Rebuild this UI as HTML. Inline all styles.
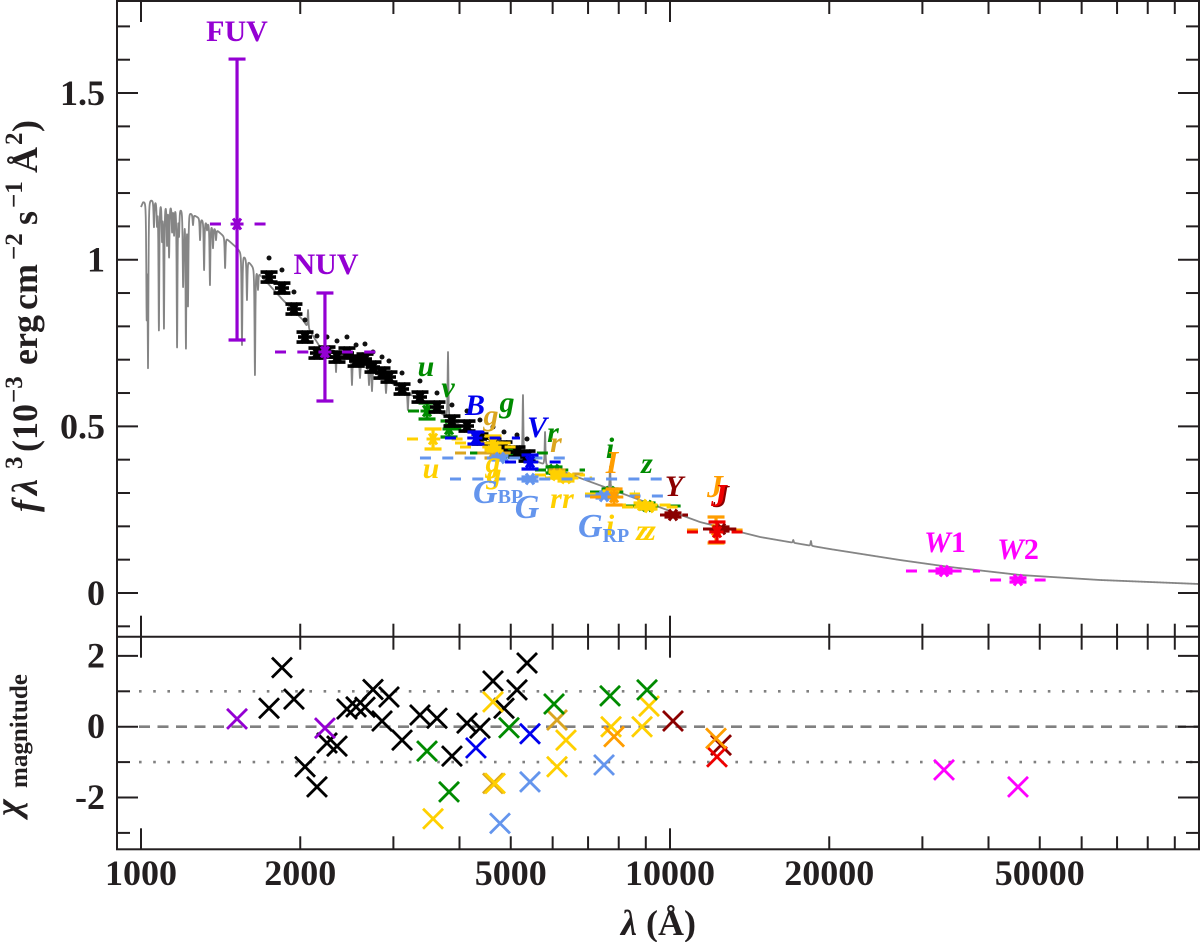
<!DOCTYPE html>
<html lang="en">
<head>
<meta charset="utf-8">
<title>Spectral energy distribution</title>
<style>
html,body{margin:0;padding:0;background:#fff;width:1200px;height:942px;overflow:hidden}
svg{display:block}
text{font-family:"Liberation Serif","DejaVu Serif",serif;font-weight:bold}
.i{font-style:italic}
</style>
</head>
<body>
<svg id="chart" xmlns="http://www.w3.org/2000/svg" width="1200" height="942" viewBox="0 0 1200 942">
  <defs>
    <clipPath id="clip-top"><rect x="117" y="1" width="1082" height="636"/></clipPath>
  </defs>
  <g id="spectrum-layer" clip-path="url(#clip-top)"></g>
  <g id="marks-layer"></g>
  <g id="residual-layer"></g>
  <g id="axes-layer"></g>

  <g font-size="30">
    <text x="237" y="41" text-anchor="middle" fill="#9400d3">FUV</text>
    <text x="326" y="274" text-anchor="middle" fill="#9400d3">NUV</text>
    <text class="i" x="426" y="376" text-anchor="middle" fill="#008b00">u</text>
    <text class="i" x="448" y="397" text-anchor="middle" fill="#008b00">v</text>
    <text class="i" x="507" y="412" text-anchor="middle" fill="#008b00">g</text>
    <text class="i" x="553" y="442" text-anchor="middle" fill="#008b00">r</text>
    <text class="i" x="610" y="458" text-anchor="middle" fill="#008b00">i</text>
    <text class="i" x="647" y="473" text-anchor="middle" fill="#008b00">z</text>
    <text class="i" x="491" y="425" text-anchor="middle" fill="#daa520">g</text>
    <text class="i" x="556" y="452" text-anchor="middle" fill="#daa520">r</text>
    <text class="i" x="475" y="415" text-anchor="middle" fill="#0000ee">B</text>
    <text class="i" x="537" y="437" text-anchor="middle" fill="#0000ee">V</text>
    <text class="i" x="431" y="478" text-anchor="middle" fill="#ffd000">u</text>
    <text class="i" x="493" y="472" text-anchor="middle" fill="#ffd000">g</text>
    <text class="i" x="494" y="483" text-anchor="middle" fill="#ffd000">g</text>
    <text class="i" x="556" y="508" text-anchor="middle" fill="#ffd000">r</text>
    <text class="i" x="568" y="508" text-anchor="middle" fill="#ffd000">r</text>
    <text class="i" x="610" y="535" text-anchor="middle" fill="#ffd000">i</text>
    <text class="i" x="642" y="540" text-anchor="middle" fill="#ffd000">z</text>
    <text class="i" x="650" y="540" text-anchor="middle" fill="#ffd000">z</text>
    <text class="i" x="527" y="518" text-anchor="middle" font-size="34" fill="#6495ed">G</text>
    <text x="473" y="503" font-size="34" fill="#6495ed"><tspan class="i">G</tspan><tspan font-size="20" dx="0">BP</tspan></text>
    <text x="578" y="537" font-size="34" fill="#6495ed"><tspan class="i">G</tspan><tspan font-size="20" dy="5">RP</tspan></text>
    <text class="i" x="612" y="473" text-anchor="middle" font-size="32" fill="#ff9d00">I</text>
    <text class="i" x="715" y="497" text-anchor="middle" font-size="32" fill="#ff9d00">J</text>
    <text class="i" x="721" y="507" text-anchor="middle" font-size="32" fill="#8b0000">J</text>
    <text class="i" x="719" y="506" text-anchor="middle" font-size="32" fill="#ee0000">J</text>
    <text class="i" x="674" y="496" text-anchor="middle" fill="#8b0000">Y</text>
    <text x="945" y="552" text-anchor="middle" fill="#ff00ff"><tspan class="i">W</tspan>1</text>
    <text x="1018" y="559" text-anchor="middle" fill="#ff00ff"><tspan class="i">W</tspan>2</text>
  </g>

  <g fill="#231f20">
    <g transform="translate(37,517) rotate(-90)" font-size="36">
      <text class="i" x="5" y="0">f</text>
      <text class="i" x="22" y="0">λ</text>
      <text x="48" y="-15" font-size="25">3</text>
      <text x="65" y="0">(10</text>
      <text x="114" y="-15" font-size="25">−3</text>
      <text x="152" y="0">erg</text>
      <text x="207" y="0">cm</text>
      <text x="257" y="-15" font-size="25">−2</text>
      <text x="292" y="0">s</text>
      <text x="309" y="-15" font-size="25">−1</text>
      <text x="344" y="0">Å</text>
      <text x="372" y="-15" font-size="25">2</text>
      <text x="385" y="0">)</text>
    </g>
    <g transform="rotate(-90)">
      <text class="i" x="-816" y="20" font-size="36">χ</text>
      <text x="-788" y="27" font-size="25">magnitude</text>
    </g>
    <text x="621" y="935" font-size="36"><tspan class="i">λ</tspan><tspan x="646">(Å)</tspan></text>
  </g>
</svg>
<script>
// ---- Model spectrum (wavelength in angstrom, f-lambda^3 in 1e-3 units) ----
const modelLambda = [1000,1009,1044,1139,1185,1238,1350,1519,1628,1855,2024,2180,2378,3088,4009,5205,6759,8776,11393,14800,20050,27200,33800,45900,65000,100000];
const modelFlux = [1.158,1.173,1.179,1.161,1.152,1.14,1.107,1.035,0.978,0.879,0.819,0.738,0.723,0.615,0.504,0.414,0.345,0.279,0.213,0.168,0.132,0.099,0.078,0.054,0.039,0.027];
const lineLambda = [1025,1031,1058,1081,1105,1130,1170,1201,1216,1227,1293,1316,1350,1368,1442,1552,1586,1642,1664,1072,1096,1120,1145,1155,1180,1206,1254,1333,1386,2069,2337,2505,2594,2698,2733,2905,3195,3805,5273,5805,7703,17100,18470];
const lineFlux = [0.84,0.69,1.098,0.789,0.795,1.008,0.738,0.93,0.738,0.864,1.059,0.969,0.924,1.035,0.975,0.744,0.879,0.654,0.91,1.104,1.059,1.044,1.083,1.074,1.074,1.059,1.104,1.089,1.059,0.849,0.663,0.624,0.645,0.624,0.606,0.6,0.549,0.723,0.594,0.483,0.38,0.159,0.156];

// ---- Binned spectrum (black) ----
const binLambda = [1746,1847,1946,2042,2151,2247,2347,2451,2550,2651,2745,2855,2943,3115,3368,3627,3871,4133,4373,4628,4855,5138,5367];
const binFlux = [0.948,0.915,0.852,0.768,0.72,0.723,0.708,0.72,0.696,0.702,0.678,0.66,0.648,0.612,0.588,0.558,0.516,0.501,0.462,0.45,0.438,0.423,0.411];
const binError = [0.015,0.015,0.015,0.015,0.015,0.015,0.015,0.015,0.015,0.015,0.015,0.015,0.015,0.015,0.015,0.015,0.015,0.015,0.015,0.015,0.015,0.015,0.015];
const rawFlux = [1.005,0.969,0.903,0.819,0.771,0.768,0.756,0.768,0.744,0.747,0.723,0.708,0.696,0.66,0.636,0.6,0.564,0.546,0.519,0.498,0.483,0.474,0.462];
const binChi = [0.52,1.67,0.78,-1.13,-1.7,-0.46,-0.55,0.5,0.56,0.55,1.05,0.16,0.84,-0.38,0.33,0.24,-0.83,0.1,-0.04,1.29,0.52,1.04,1.8];

// ---- Photometry ----
const photName = ['g-goldenrod','r-goldenrod','u-gold','g-gold-a','g-gold-b','r-gold-a','r-gold-b','i-gold','z-gold-a','z-gold-b','gbp','g-gaia','grp','u-green','v-green','g-green','r-green','i-green','z-green','b-blue','v-blue','i-orange','y-darkred','j-darkred','j-red','j-orange','w1','w2','fuv','nuv'];
const photFamily = ['goldenrod','goldenrod','gold','gold','gold','gold','gold','gold','gold','gold','cornflower','cornflower','cornflower','green','green','green','green','green','green','blue','blue','orange','darkred','darkred','red','orange','magenta','magenta','violet','violet'];
const photLambda = [4628,6115,3565,4628,4669,6115,6359,7737,8854,9127,4771,5437,7504,3473,3822,4962,6036,7703,9049,4297,5437,7839,10131,12487,12270,12218,32960,45480,1519,2227];
const photFlux = [0.42,0.357,0.462,0.45,0.438,0.354,0.345,0.297,0.264,0.258,0.405,0.342,0.291,0.546,0.492,0.42,0.369,0.303,0.261,0.465,0.393,0.288,0.234,0.192,0.183,0.189,0.066,0.039,1.107,0.723];
const photFluxHigh = [0.435,0.369,0.492,0.471,0.45,0.363,0.354,0.306,0.27,0.264,0.411,0.348,0.297,0.57,0.516,0.429,0.378,0.312,0.27,0.483,0.414,0.312,0.24,0.198,0.213,0.228,0.072,0.045,1.602,0.9];
const photFluxLow = [0.405,0.345,0.432,0.429,0.426,0.345,0.336,0.288,0.258,0.252,0.399,0.336,0.285,0.522,0.468,0.411,0.36,0.294,0.252,0.447,0.372,0.264,0.228,0.186,0.153,0.15,0.06,0.033,0.759,0.576];
const photBandLow = [3923,5933,3183,3923,4009,5556,5805,6907,7870,8115,3368,3838,6907,3197,3488,4187,5556,7060,8222,3755,4877,7060,9574,11545,10767,10767,27930,40270,1350,1792];
const photBandHigh = [5205,7060,4133,5205,5205,6907,7123,8776,10087,10445,6416,9784,10087,3838,4187,5933,6907,8587,10490,5205,6331,8776,10815,13385,13985,13985,38550,51610,1730,2794];
const photChi = [-1.6,0.19,-2.6,0.7,-1.6,-1.13,-0.38,0,0,0.58,-2.73,-1.56,-1.08,-0.69,-1.84,-0.03,0.64,0.87,1.04,-0.6,-0.2,-0.28,0.16,-0.52,-0.85,-0.33,-1.22,-1.7,0.22,-0.04];
const familyColor = {goldenrod:'#daa520',gold:'#ffd000',cornflower:'#6495ed',green:'#008b00',blue:'#0000ee',orange:'#ff9d00',darkred:'#8b0000',red:'#ee0000',magenta:'#ff00ff',violet:'#9400d3'};
const behindBinned = ['green'];
const aboveBinned = ['goldenrod','gold','cornflower','blue','orange','darkred','red','magenta','violet'];

// ---- Axis ticks ----
const xMinorValues = [2000,3000,4000,5000,6000,7000,8000,9000,20000,30000,40000,50000,60000,70000,80000,90000];
const xMajorValues = [1000,10000];
const xTickLabels = [1000,2000,5000,10000,20000,50000];
const topMajorTicks = [0,0.5,1,1.5];
const topMinorTicks = [-0.1,0.1,0.2,0.3,0.4,0.6,0.7,0.8,0.9,1.1,1.2,1.3,1.4,1.6,1.7];
const topTickLabels = ['0','0.5','1','1.5'];
const chiMajorTicks = [-2,0,2];
const chiMinorTicks = [-3,-1,1];
const chiTickLabels = ['-2','0','2'];
const chiDottedLevels = [-1,1];

// ---- Axis functions ----
const INK = '#231f20';
const PX_LEFT = 117, PX_RIGHT = 1199, PX_TOP = 1, PX_MID = 636.7, PX_BOTTOM = 849.3;
const xScale = function (lambda) { return 141 + 529 * (Math.log10(lambda) - 3); };
const xInvert = function (px) { return Math.pow(10, 3 + (px - 141) / 529); };
const yTop = function (v) { return 593 - 333.3 * v; };
const yChi = function (v) { return 726.7 - 35.4 * v; };

const NS = 'http://www.w3.org/2000/svg';
function mk(tag, attrs, parent) {
  const e = document.createElementNS(NS, tag);
  for (const k in attrs) e.setAttribute(k, attrs[k]);
  parent.appendChild(e);
  return e;
}
function interp(lambda) {
  const lx = Math.log10(lambda);
  for (let i = 0; i < modelLambda.length - 1; i++) {
    if (lambda <= modelLambda[i + 1]) {
      const a = Math.log10(modelLambda[i]), b = Math.log10(modelLambda[i + 1]);
      return modelFlux[i] + (modelFlux[i + 1] - modelFlux[i]) * (lx - a) / (b - a);
    }
  }
  return modelFlux[modelFlux.length - 1];
}

const specLayer = document.getElementById('spectrum-layer');
const marksLayer = document.getElementById('marks-layer');
const resLayer = document.getElementById('residual-layer');
const axesLayer = document.getElementById('axes-layer');

// ---- Model spectrum: continuum minus narrow line profiles ----
(function () {
  const samples = lineLambda.slice();
  for (let px = xScale(1000); px <= xScale(100000); px += 0.25) samples.push(xInvert(px));
  samples.sort(function (a, b) { return a - b; });
  const depths = lineLambda.map(function (l, i) { return interp(l) - lineFlux[i]; });
  const d = samples.map(function (l) {
    let f = interp(l);
    const px = xScale(l);
    lineLambda.forEach(function (c, i) {
      const u = (px - xScale(c)) / 0.7;
      const q = 1 + u * u;
      f -= depths[i] / (q * q);
    });
    return px.toFixed(2) + ',' + yTop(f).toFixed(2);
  }).join(' ');
  const el = mk('polyline', { points: d, fill: 'none', stroke: '#858585', 'stroke-width': 1.8, 'stroke-linejoin': 'round' }, specLayer);
  
  
})();

// ---- Marker helpers ----
function drawStar(cx, cy, r, color, sw, parent) {
  const g = mk('g', { stroke: color, 'stroke-width': sw }, parent);
  mk('line', { x1: cx - r, y1: cy, x2: cx + r, y2: cy }, g);
  mk('line', { x1: cx - r * 0.6, y1: cy - r * 0.85, x2: cx + r * 0.6, y2: cy + r * 0.85 }, g);
  mk('line', { x1: cx - r * 0.6, y1: cy + r * 0.85, x2: cx + r * 0.6, y2: cy - r * 0.85 }, g);
  return g;
}
function drawErrorBar(cx, yHi, yLo, color, sw, parent) {
  const g = mk('g', { stroke: color, 'stroke-width': sw }, parent);
  mk('line', { x1: cx, y1: yHi, x2: cx, y2: yLo }, g);
  mk('line', { x1: cx - 8.5, y1: yHi, x2: cx + 8.5, y2: yHi }, g);
  mk('line', { x1: cx - 8.5, y1: yLo, x2: cx + 8.5, y2: yLo }, g);
  return g;
}
function drawCross(cx, cy, color, parent) {
  const g = mk('g', { stroke: color, 'stroke-width': 2.8 }, parent);
  mk('line', { x1: cx - 10, y1: cy - 10, x2: cx + 10, y2: cy + 10 }, g);
  mk('line', { x1: cx - 10, y1: cy + 10, x2: cx + 10, y2: cy - 10 }, g);
  return g;
}

// ---- Photometry ----
function drawPhot(i) {
  const col = familyColor[photFamily[i]];
  const cx = xScale(photLambda[i]);
  const cy = yTop(photFlux[i]);
  const band = mk('line', { x1: xScale(photBandLow[i]), y1: cy, x2: xScale(photBandHigh[i]), y2: cy, stroke: col, 'stroke-width': 3, 'stroke-dasharray': '11 11.3' }, marksLayer);
  
  
  const err = drawErrorBar(cx, yTop(photFluxHigh[i]), yTop(photFluxLow[i]), col, 3.2, marksLayer);
  
  
  const star = drawStar(cx, cy, 6.5, col, 3, marksLayer);
  
  
}
function drawFamilies(list) {
  list.forEach(function (fam) {
    photName.forEach(function (n, i) {
      if (photFamily[i] === fam) drawPhot(i);
    });
  });
}
drawFamilies(behindBinned);

// ---- Raw dots and binned spectrum ----
binLambda.forEach(function (l, i) {
  const dot = mk('circle', { cx: xScale(l), cy: yTop(rawFlux[i]), r: 2.5, fill: '#111' }, marksLayer);
  
  
  const cx = xScale(l), cy = yTop(binFlux[i]);
  const err = drawErrorBar(cx, yTop(binFlux[i] + binError[i]), yTop(binFlux[i] - binError[i]), '#000', 3.6, marksLayer);
  
  
  const star = drawStar(cx, cy, 7, '#000', 3.6, marksLayer);
  
  
});

drawFamilies(aboveBinned);

// ---- Residual panel ----
chiDottedLevels.forEach(function (v) {
  const el = mk('line', { x1: 139, y1: yChi(v), x2: PX_RIGHT, y2: yChi(v), stroke: '#808080', 'stroke-width': 2.6, 'stroke-dasharray': '2.6 11.6' }, resLayer);
  
  
});
const zeroLine = mk('line', { x1: 139, y1: yChi(0), x2: PX_RIGHT, y2: yChi(0), stroke: '#808080', 'stroke-width': 2.6, 'stroke-dasharray': '11 7.5' }, resLayer);



binLambda.forEach(function (l, i) {
  const c = drawCross(xScale(l), yChi(binChi[i]), '#000', resLayer);
  
  
});
photName.forEach(function (n, i) {
  const c = drawCross(xScale(photLambda[i]), yChi(photChi[i]), familyColor[photFamily[i]], resLayer);
  
  
});

// ---- Frames ----
[[PX_LEFT, PX_TOP, PX_RIGHT - PX_LEFT, PX_BOTTOM - PX_TOP]].forEach(function (r) {
  const el = mk('rect', { x: r[0], y: r[1], width: r[2], height: r[3], fill: 'none', stroke: INK, 'stroke-width': 2 }, axesLayer);
  
  
});
const divider = mk('line', { x1: PX_LEFT, y1: PX_MID, x2: PX_RIGHT, y2: PX_MID, stroke: INK, 'stroke-width': 2 }, axesLayer);



function tick(x1, y1, x2, y2, w) {
  const el = mk('line', { x1: x1, y1: y1, x2: x2, y2: y2, stroke: INK, 'stroke-width': w }, axesLayer);
  
  
}
function xTicks(v, len) {
  const x = xScale(v);
  tick(x, PX_TOP, x, PX_TOP + len, 2);
  tick(x, PX_MID, x, PX_MID - len, 2);
  tick(x, PX_MID, x, PX_MID + len, 2);
  tick(x, PX_BOTTOM, x, PX_BOTTOM - len, 2);
}
xMinorValues.forEach(function (v) { xTicks(v, 13); });
xMajorValues.forEach(function (v) { xTicks(v, 21); });
function yTicks(y, len) {
  tick(PX_LEFT, y, PX_LEFT + len, y, 2);
  tick(PX_RIGHT, y, PX_RIGHT - len, y, 2);
}
topMinorTicks.forEach(function (v) { yTicks(yTop(v), 13); });
topMajorTicks.forEach(function (v) { yTicks(yTop(v), 21); });
chiMinorTicks.forEach(function (v) { yTicks(yChi(v), 13); });
chiMajorTicks.forEach(function (v) { yTicks(yChi(v), 21); });

// ---- Tick labels ----
function tickText(x, y, anchor, str) {
  const t = mk('text', { x: x, y: y, 'text-anchor': anchor, 'font-size': 36, fill: INK }, axesLayer);
  t.textContent = str;
  
  
}
xTickLabels.forEach(function (v) { tickText(xScale(v), 885, 'middle', String(v)); });
topMajorTicks.forEach(function (v, i) { tickText(105, yTop(v) + 12, 'end', topTickLabels[i]); });
chiMajorTicks.forEach(function (v, i) { tickText(105, yChi(v) + 11.5, 'end', chiTickLabels[i]); });
</script>
</body>
</html>
